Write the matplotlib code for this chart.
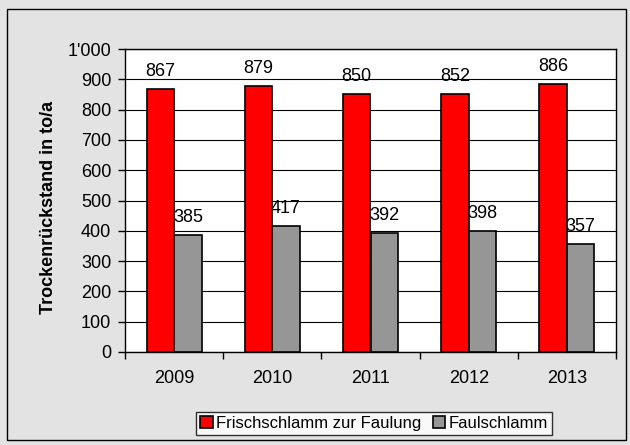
import numpy as np
import matplotlib.pyplot as plt
from matplotlib.patches import Rectangle
from matplotlib.ticker import FuncFormatter

plt.rcParams['font.family'] = ['Liberation Sans', 'DejaVu Sans']

years = ['2009', '2010', '2011', '2012', '2013']
frisch = [867, 879, 850, 852, 886]
faul = [385, 417, 392, 398, 357]

W, H = 630, 445
fig = plt.figure(figsize=(W / 100, H / 100), dpi=100)
fig.patch.set_facecolor('#e3e3e3')
# outer frame of the chart area
fig.patches.append(Rectangle((7 / W, 1 - 440 / H), 619 / W, 431 / H,
                             transform=fig.transFigure, fill=False,
                             edgecolor='black', linewidth=1.0))

ax = fig.add_axes([125 / W, 1 - 352 / H, 491 / W, 303 / H])
ax.set_facecolor('white')

x = np.arange(len(years))
bw = 0.28
b1 = ax.bar(x - bw / 2, frisch, bw, color='#ff0000', edgecolor='black',
            linewidth=1.2, zorder=3, label='Frischschlamm zur Faulung')
b2 = ax.bar(x + bw / 2, faul, bw, color='#969696', edgecolor='black',
            linewidth=1.2, zorder=3, label='Faulschlamm')

# value labels sit under the bars (the red bars cover part of the grey labels)
for xi, v in zip(x - bw / 2, frisch):
    ax.annotate(str(v), (xi, v), xytext=(0, 13), textcoords='offset pixels',
                ha='center', va='baseline', fontsize=13, zorder=2)
for xi, v in zip(x + bw / 2, faul):
    ax.annotate(str(v), (xi, v), xytext=(0, 13), textcoords='offset pixels',
                ha='center', va='baseline', fontsize=13, zorder=2)

ax.set_xlim(-0.5, len(years) - 0.5)
ax.set_ylim(0, 1000)
ax.set_yticks(np.arange(0, 1001, 100))
ax.yaxis.set_major_formatter(FuncFormatter(
    lambda v, p: "{:,}".format(int(v)).replace(',', "'")))
ax.yaxis.grid(True, color='black', linewidth=0.8, zorder=0)
ax.set_axisbelow(True)

ax.set_xticks(np.arange(-0.5, len(years)), minor=False)
ax.set_xticklabels([])
ax.set_xticks(x, minor=True)
ax.set_xticklabels(years, minor=True)
ax.tick_params(axis='x', which='minor', length=0, pad=13, labelsize=13)
ax.tick_params(axis='x', which='major', length=5, width=1, direction='out')
ax.tick_params(axis='y', length=5, width=1, direction='out', labelsize=13, pad=5)

for s in ax.spines.values():
    s.set_linewidth(1.0)

ax.set_ylabel('Trockenrückstand in to/a', fontsize=13, fontweight='bold')
ax.yaxis.set_label_coords((57 - 125) / 491, (352 - 207) / 303)

leg = fig.legend(handles=[b1, b2], loc='center',
                 bbox_to_anchor=(374 / W, 1 - 423.5 / H), ncol=2,
                 fontsize=12, frameon=True, fancybox=False,
                 edgecolor='black', handlelength=0.75, handleheight=0.75,
                 handletextpad=0.2, columnspacing=0.7, borderpad=0.25,
                 borderaxespad=0)
leg.get_frame().set_linewidth(1.0)

fig.savefig('out.png', dpi=100, facecolor=fig.get_facecolor())
